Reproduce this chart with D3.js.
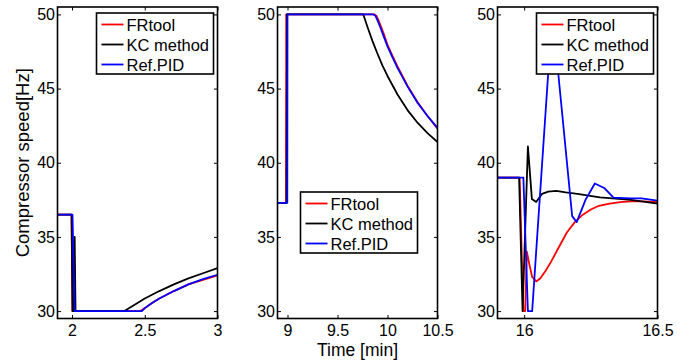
<!DOCTYPE html>
<html>
<head>
<meta charset="utf-8">
<script src="https://cdn.jsdelivr.net/npm/d3@7"></script>
<style>
  body { margin: 0; background: #fff; }
  svg { display: block; font-family: "Liberation Sans", Arial, sans-serif; }
</style>
</head>
<body>
<div id="chart"></div>
<script>
// ---------------------------------------------------------------------------
// Data
// ---------------------------------------------------------------------------
const seriesNames  = ['FRtool', 'KC method', 'Ref.PID'];
const seriesColors = ['#ff0000', '#000000', '#0000ff'];

const yDomain = [29.5, 50.5];
const yTicks  = [30, 35, 40, 45, 50];

// Panel 1 : 1.9 .. 3 min
const p1Domain = [1.9, 3];
const p1Ticks  = [2, 2.5, 3];
const p1FRtool = [[1.9, 36.5], [1.996, 36.5], [2.003, 30], [2.47, 30], [2.5, 30.2], [2.55, 30.55],
                  [2.6, 30.85], [2.7, 31.35], [2.8, 31.8], [2.9, 32.1], [3.0, 32.4]];
const p1KC     = [[1.9, 36.5], [1.997, 36.5], [2.003, 30], [2.013, 30], [2.018, 35], [2.024, 30],
                  [2.36, 30], [2.45, 30.55], [2.5, 30.85], [2.6, 31.35], [2.7, 31.8],
                  [2.8, 32.2], [2.9, 32.55], [3.0, 32.9]];
const p1RefPID = [[1.9, 36.5], [2.003, 36.5], [2.018, 30], [2.48, 30], [2.5, 30.2], [2.55, 30.55],
                  [2.6, 30.85], [2.7, 31.35], [2.8, 31.8], [2.9, 32.15], [3.0, 32.45]];

// Panel 2 : 8.9 .. 10.5 min
const p2Domain = [8.9, 10.5];
const p2Ticks  = [9, 9.5, 10, 10.5];
const p2FRtool = [[8.9, 37.3], [8.985, 37.3], [8.987, 50], [9.87, 50], [9.89, 49.9], [9.91, 49.6],
                  [9.94, 49.1], [9.97, 48.55], [10.0, 47.95], [10.05, 47.2], [10.1, 46.5],
                  [10.2, 45.2], [10.3, 44.1], [10.4, 43.15], [10.5, 42.3]];
const p2KC     = [[8.9, 37.3], [8.99, 37.3], [8.995, 50], [9.758, 50], [9.8, 49.15], [9.85, 48.2],
                  [9.9, 47.35], [9.95, 46.55], [10.0, 45.85], [10.1, 44.6], [10.2, 43.55],
                  [10.3, 42.7], [10.4, 42.0], [10.5, 41.4]];
const p2RefPID = [[8.9, 37.3], [8.998, 37.3], [9.0, 50], [9.86, 50], [9.88, 49.9], [9.9, 49.6],
                  [9.93, 49.1], [9.96, 48.55], [10.0, 47.85], [10.05, 47.1], [10.1, 46.4],
                  [10.2, 45.15], [10.3, 44.05], [10.4, 43.15], [10.5, 42.35]];

// Panel 3 : 15.9 .. 16.5 min
const p3Domain = [15.9, 16.5];
const p3Ticks  = [16, 16.5];
const p3FRtool = [[15.9, 39], [15.983, 39], [15.997, 30], [16.004, 30], [16.01, 34], [16.02, 33.1],
                  [16.03, 32.3], [16.045, 32.0], [16.06, 32.2], [16.08, 32.7], [16.1, 33.3],
                  [16.13, 34.3], [16.16, 35.3], [16.19, 36.0], [16.22, 36.5], [16.25, 36.85],
                  [16.28, 37.1], [16.32, 37.25], [16.36, 37.35], [16.4, 37.4], [16.45, 37.4],
                  [16.5, 37.35]];
const p3KC     = [[15.9, 39], [15.981, 39], [15.994, 30], [16.014, 41.1], [16.029, 37.55],
                  [16.045, 37.36], [16.067, 37.9], [16.09, 38.05], [16.12, 38.1], [16.156, 38.0],
                  [16.2, 37.9], [16.284, 37.66], [16.4, 37.5], [16.5, 37.25]];
const p3RefPID = [[15.9, 39], [15.997, 39], [16.014, 30], [16.03, 30], [16.09, 46], [16.107, 49.5],
                  [16.128, 46], [16.18, 36.4], [16.197, 36.0], [16.23, 37.5], [16.265, 38.6],
                  [16.3, 38.3], [16.335, 37.65], [16.4, 37.6], [16.44, 37.6], [16.5, 37.45]];

// ---------------------------------------------------------------------------
// Layout
// ---------------------------------------------------------------------------
const W = 693, H = 360;
const plotTop = 7, plotBottom = 318.5, panelW = 160;
const tickLen = 3.5;

const panels = [
  { x0: 57.5,  domain: p1Domain, ticks: p1Ticks, series: [p1FRtool, p1KC, p1RefPID], legend: 'topright' },
  { x0: 277.5, domain: p2Domain, ticks: p2Ticks, series: [p2FRtool, p2KC, p2RefPID], legend: { dx: 23, y: 192 } },
  { x0: 497.5, domain: p3Domain, ticks: p3Ticks, series: [p3FRtool, p3KC, p3RefPID], legend: 'topright' }
];

const svg = d3.select('#chart').append('svg')
  .attr('width', W)
  .attr('height', H)
  .attr('viewBox', `0 0 ${W} ${H}`);

const y = d3.scaleLinear().domain(yDomain).range([plotBottom, plotTop]);

panels.forEach((p, i) => {
  const x = d3.scaleLinear().domain(p.domain).range([p.x0, p.x0 + panelW]);
  const g = svg.append('g');
  const clipId = 'clip' + i;

  svg.append('clipPath').attr('id', clipId)
    .append('rect')
    .attr('x', p.x0).attr('y', plotTop)
    .attr('width', panelW).attr('height', plotBottom - plotTop);

  // Series lines
  const line = d3.line().x(d => x(d[0])).y(d => y(d[1]));
  p.series.forEach((s, k) => {
    g.append('path')
      .datum(s)
      .attr('clip-path', `url(#${clipId})`)
      .attr('d', line)
      .attr('fill', 'none')
      .attr('stroke', seriesColors[k])
      .attr('stroke-width', 1.8)
      .attr('stroke-linejoin', 'round');
  });

  // Axes (MATLAB-style: inward ticks on all four sides, labels only bottom/left)
  const axB = g.append('g').attr('transform', `translate(0,${plotBottom})`)
    .call(d3.axisBottom(x).tickValues(p.ticks).tickSizeInner(-tickLen).tickSizeOuter(0)
      .tickFormat(d => String(d)).tickPadding(6));
  const axT = g.append('g').attr('transform', `translate(0,${plotTop})`)
    .call(d3.axisTop(x).tickValues(p.ticks).tickSizeInner(-tickLen).tickSizeOuter(0).tickFormat(''));
  const axL = g.append('g').attr('transform', `translate(${p.x0},0)`)
    .call(d3.axisLeft(y).tickValues(yTicks).tickSizeInner(-tickLen).tickSizeOuter(0).tickPadding(2.5));
  const axR = g.append('g').attr('transform', `translate(${p.x0 + panelW},0)`)
    .call(d3.axisRight(y).tickValues(yTicks).tickSizeInner(-tickLen).tickSizeOuter(0).tickFormat(''));

  [axB, axT, axL, axR].forEach(a => {
    a.select('.domain').remove();
    a.selectAll('line').attr('stroke', '#000').attr('stroke-width', 1);
    a.selectAll('text').attr('fill', '#000').style('font-size', '16px')
      .style('font-family', '"Liberation Sans", Arial, sans-serif');
  });

  // Box
  g.append('rect')
    .attr('x', p.x0).attr('y', plotTop)
    .attr('width', panelW).attr('height', plotBottom - plotTop)
    .attr('fill', 'none').attr('stroke', '#000').attr('stroke-width', 1.6);

  // Legend
  const lw = 117, lh = 61;
  let lx, ly;
  if (p.legend === 'topright') { lx = p.x0 + panelW - 4 - lw; ly = 13; }
  else { lx = p.x0 + p.legend.dx; ly = p.legend.y; }
  const lg = g.append('g').attr('transform', `translate(${lx},${ly})`);
  lg.append('rect').attr('width', lw).attr('height', lh)
    .attr('fill', '#fff').attr('stroke', '#000').attr('stroke-width', 1.6);
  seriesNames.forEach((name, k) => {
    const ry = 11.5 + k * 20;
    lg.append('line').attr('x1', 5).attr('x2', 27).attr('y1', ry).attr('y2', ry)
      .attr('stroke', seriesColors[k]).attr('stroke-width', 1.8);
    lg.append('text').attr('x', 30).attr('y', ry + 6)
      .style('font-size', '16.5px').attr('fill', '#000').text(name);
  });
});

// Axis titles
svg.append('text')
  .attr('transform', `translate(29,${(plotTop + plotBottom) / 2}) rotate(-90)`)
  .attr('text-anchor', 'middle')
  .style('font-size', '18.5px')
  .text('Compressor speed[Hz]');

svg.append('text')
  .attr('x', panels[1].x0 + panelW / 2)
  .attr('y', 355.5)
  .attr('text-anchor', 'middle')
  .style('font-size', '17.5px')
  .text('Time [min]');
</script>
</body>
</html>
